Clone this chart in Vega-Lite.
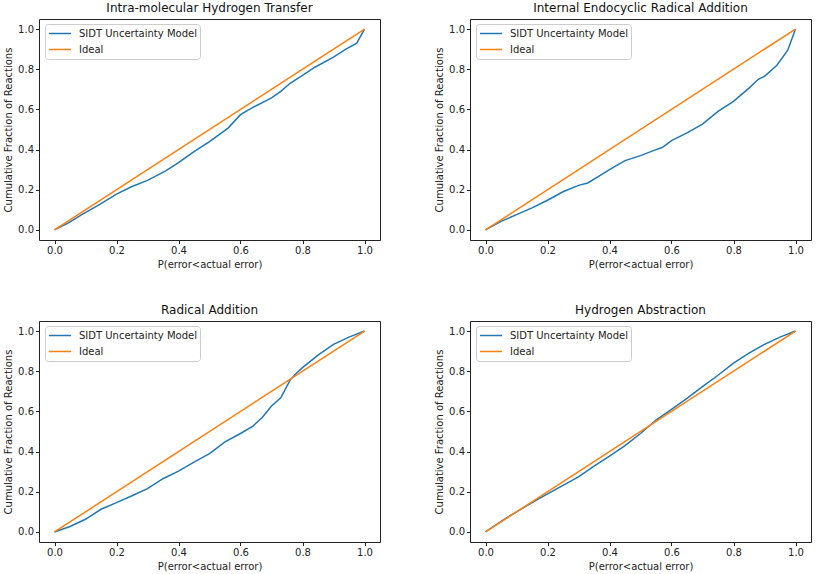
{
  "$schema": "https://vega.github.io/schema/vega-lite/v6.json",
  "padding": {"left": 3, "top": 1, "right": 2, "bottom": 2},
  "background": "white",
  "datasets": {
    "curves": [
      {"panel": "A", "series": "SIDT Uncertainty Model", "x": 0, "y": 0},
      {"panel": "A", "series": "SIDT Uncertainty Model", "x": 0.045, "y": 0.035},
      {"panel": "A", "series": "SIDT Uncertainty Model", "x": 0.088, "y": 0.076},
      {"panel": "A", "series": "SIDT Uncertainty Model", "x": 0.142, "y": 0.124},
      {"panel": "A", "series": "SIDT Uncertainty Model", "x": 0.2, "y": 0.178},
      {"panel": "A", "series": "SIDT Uncertainty Model", "x": 0.25, "y": 0.216},
      {"panel": "A", "series": "SIDT Uncertainty Model", "x": 0.3, "y": 0.247},
      {"panel": "A", "series": "SIDT Uncertainty Model", "x": 0.36, "y": 0.295},
      {"panel": "A", "series": "SIDT Uncertainty Model", "x": 0.4, "y": 0.335},
      {"panel": "A", "series": "SIDT Uncertainty Model", "x": 0.45, "y": 0.39},
      {"panel": "A", "series": "SIDT Uncertainty Model", "x": 0.5, "y": 0.44},
      {"panel": "A", "series": "SIDT Uncertainty Model", "x": 0.56, "y": 0.507},
      {"panel": "A", "series": "SIDT Uncertainty Model", "x": 0.6, "y": 0.574},
      {"panel": "A", "series": "SIDT Uncertainty Model", "x": 0.64, "y": 0.61},
      {"panel": "A", "series": "SIDT Uncertainty Model", "x": 0.7, "y": 0.657},
      {"panel": "A", "series": "SIDT Uncertainty Model", "x": 0.73, "y": 0.69},
      {"panel": "A", "series": "SIDT Uncertainty Model", "x": 0.76, "y": 0.73},
      {"panel": "A", "series": "SIDT Uncertainty Model", "x": 0.8, "y": 0.77},
      {"panel": "A", "series": "SIDT Uncertainty Model", "x": 0.84, "y": 0.81},
      {"panel": "A", "series": "SIDT Uncertainty Model", "x": 0.9, "y": 0.86},
      {"panel": "A", "series": "SIDT Uncertainty Model", "x": 0.94, "y": 0.9},
      {"panel": "A", "series": "SIDT Uncertainty Model", "x": 0.975, "y": 0.93},
      {"panel": "A", "series": "SIDT Uncertainty Model", "x": 1, "y": 1},
      {"panel": "A", "series": "Ideal", "x": 0, "y": 0},
      {"panel": "A", "series": "Ideal", "x": 1, "y": 1},

      {"panel": "B", "series": "SIDT Uncertainty Model", "x": 0, "y": 0},
      {"panel": "B", "series": "SIDT Uncertainty Model", "x": 0.05, "y": 0.043},
      {"panel": "B", "series": "SIDT Uncertainty Model", "x": 0.1, "y": 0.076},
      {"panel": "B", "series": "SIDT Uncertainty Model", "x": 0.15, "y": 0.11},
      {"panel": "B", "series": "SIDT Uncertainty Model", "x": 0.2, "y": 0.148},
      {"panel": "B", "series": "SIDT Uncertainty Model", "x": 0.25, "y": 0.19},
      {"panel": "B", "series": "SIDT Uncertainty Model", "x": 0.3, "y": 0.222},
      {"panel": "B", "series": "SIDT Uncertainty Model", "x": 0.33, "y": 0.234},
      {"panel": "B", "series": "SIDT Uncertainty Model", "x": 0.37, "y": 0.272},
      {"panel": "B", "series": "SIDT Uncertainty Model", "x": 0.4, "y": 0.3},
      {"panel": "B", "series": "SIDT Uncertainty Model", "x": 0.45, "y": 0.345},
      {"panel": "B", "series": "SIDT Uncertainty Model", "x": 0.5, "y": 0.37},
      {"panel": "B", "series": "SIDT Uncertainty Model", "x": 0.55, "y": 0.4},
      {"panel": "B", "series": "SIDT Uncertainty Model", "x": 0.57, "y": 0.41},
      {"panel": "B", "series": "SIDT Uncertainty Model", "x": 0.6, "y": 0.445},
      {"panel": "B", "series": "SIDT Uncertainty Model", "x": 0.65, "y": 0.483},
      {"panel": "B", "series": "SIDT Uncertainty Model", "x": 0.7, "y": 0.527},
      {"panel": "B", "series": "SIDT Uncertainty Model", "x": 0.75, "y": 0.59},
      {"panel": "B", "series": "SIDT Uncertainty Model", "x": 0.8, "y": 0.64},
      {"panel": "B", "series": "SIDT Uncertainty Model", "x": 0.85, "y": 0.706},
      {"panel": "B", "series": "SIDT Uncertainty Model", "x": 0.88, "y": 0.75},
      {"panel": "B", "series": "SIDT Uncertainty Model", "x": 0.9, "y": 0.765},
      {"panel": "B", "series": "SIDT Uncertainty Model", "x": 0.94, "y": 0.82},
      {"panel": "B", "series": "SIDT Uncertainty Model", "x": 0.975, "y": 0.895},
      {"panel": "B", "series": "SIDT Uncertainty Model", "x": 1, "y": 1},
      {"panel": "B", "series": "Ideal", "x": 0, "y": 0},
      {"panel": "B", "series": "Ideal", "x": 1, "y": 1},

      {"panel": "C", "series": "SIDT Uncertainty Model", "x": 0, "y": 0},
      {"panel": "C", "series": "SIDT Uncertainty Model", "x": 0.05, "y": 0.027},
      {"panel": "C", "series": "SIDT Uncertainty Model", "x": 0.1, "y": 0.063},
      {"panel": "C", "series": "SIDT Uncertainty Model", "x": 0.15, "y": 0.113},
      {"panel": "C", "series": "SIDT Uncertainty Model", "x": 0.2, "y": 0.146},
      {"panel": "C", "series": "SIDT Uncertainty Model", "x": 0.25, "y": 0.18},
      {"panel": "C", "series": "SIDT Uncertainty Model", "x": 0.3, "y": 0.216},
      {"panel": "C", "series": "SIDT Uncertainty Model", "x": 0.35, "y": 0.265},
      {"panel": "C", "series": "SIDT Uncertainty Model", "x": 0.4, "y": 0.303},
      {"panel": "C", "series": "SIDT Uncertainty Model", "x": 0.45, "y": 0.348},
      {"panel": "C", "series": "SIDT Uncertainty Model", "x": 0.5, "y": 0.39},
      {"panel": "C", "series": "SIDT Uncertainty Model", "x": 0.55, "y": 0.448},
      {"panel": "C", "series": "SIDT Uncertainty Model", "x": 0.6, "y": 0.49},
      {"panel": "C", "series": "SIDT Uncertainty Model", "x": 0.64, "y": 0.527},
      {"panel": "C", "series": "SIDT Uncertainty Model", "x": 0.67, "y": 0.57},
      {"panel": "C", "series": "SIDT Uncertainty Model", "x": 0.7, "y": 0.627},
      {"panel": "C", "series": "SIDT Uncertainty Model", "x": 0.73, "y": 0.668},
      {"panel": "C", "series": "SIDT Uncertainty Model", "x": 0.76, "y": 0.756},
      {"panel": "C", "series": "SIDT Uncertainty Model", "x": 0.78, "y": 0.79},
      {"panel": "C", "series": "SIDT Uncertainty Model", "x": 0.8, "y": 0.818},
      {"panel": "C", "series": "SIDT Uncertainty Model", "x": 0.85, "y": 0.88},
      {"panel": "C", "series": "SIDT Uncertainty Model", "x": 0.9, "y": 0.934},
      {"panel": "C", "series": "SIDT Uncertainty Model", "x": 0.95, "y": 0.97},
      {"panel": "C", "series": "SIDT Uncertainty Model", "x": 1, "y": 1},
      {"panel": "C", "series": "Ideal", "x": 0, "y": 0},
      {"panel": "C", "series": "Ideal", "x": 1, "y": 1},

      {"panel": "D", "series": "SIDT Uncertainty Model", "x": 0, "y": 0},
      {"panel": "D", "series": "SIDT Uncertainty Model", "x": 0.06, "y": 0.063},
      {"panel": "D", "series": "SIDT Uncertainty Model", "x": 0.1, "y": 0.1},
      {"panel": "D", "series": "SIDT Uncertainty Model", "x": 0.15, "y": 0.146},
      {"panel": "D", "series": "SIDT Uncertainty Model", "x": 0.2, "y": 0.19},
      {"panel": "D", "series": "SIDT Uncertainty Model", "x": 0.25, "y": 0.232},
      {"panel": "D", "series": "SIDT Uncertainty Model", "x": 0.3, "y": 0.274},
      {"panel": "D", "series": "SIDT Uncertainty Model", "x": 0.35, "y": 0.328},
      {"panel": "D", "series": "SIDT Uncertainty Model", "x": 0.4, "y": 0.378},
      {"panel": "D", "series": "SIDT Uncertainty Model", "x": 0.45, "y": 0.43},
      {"panel": "D", "series": "SIDT Uncertainty Model", "x": 0.5, "y": 0.49},
      {"panel": "D", "series": "SIDT Uncertainty Model", "x": 0.55, "y": 0.557},
      {"panel": "D", "series": "SIDT Uncertainty Model", "x": 0.6, "y": 0.61},
      {"panel": "D", "series": "SIDT Uncertainty Model", "x": 0.65, "y": 0.665},
      {"panel": "D", "series": "SIDT Uncertainty Model", "x": 0.7, "y": 0.723},
      {"panel": "D", "series": "SIDT Uncertainty Model", "x": 0.75, "y": 0.78},
      {"panel": "D", "series": "SIDT Uncertainty Model", "x": 0.8, "y": 0.84},
      {"panel": "D", "series": "SIDT Uncertainty Model", "x": 0.85, "y": 0.89},
      {"panel": "D", "series": "SIDT Uncertainty Model", "x": 0.9, "y": 0.934},
      {"panel": "D", "series": "SIDT Uncertainty Model", "x": 0.95, "y": 0.97},
      {"panel": "D", "series": "SIDT Uncertainty Model", "x": 1, "y": 1},
      {"panel": "D", "series": "Ideal", "x": 0, "y": 0},
      {"panel": "D", "series": "Ideal", "x": 1, "y": 1}
    ]
  },
  "data": {"name": "curves"},
  "columns": 2,
  "spacing": {"row": 33, "column": 53},
  "resolve": {"legend": {"color": "independent"}, "scale": {"x": "independent", "y": "independent"}},
  "concat": [
    {
      "title": "Intra-molecular Hydrogen Transfer",
      "width": 341, "height": 221,
      "transform": [{"filter": "datum.panel == 'A'"}],
      "layer": [
        {"transform": [{"filter": "datum.series != 'Ideal'"}], "mark": {"type": "line", "strokeWidth": 1.5},
         "encoding": {
          "x": {"field": "x", "type": "quantitative", "title": "P(error<actual error)", "scale": {"domain": [-0.05, 1.05], "nice": false, "zero": false}, "axis": {"values": [0, 0.2, 0.4, 0.6, 0.8, 1.0], "format": ".1f"}},
          "y": {"field": "y", "type": "quantitative", "title": "Cumulative Fraction of Reactions", "scale": {"domain": [-0.05, 1.05], "nice": false, "zero": false}, "axis": {"values": [0, 0.2, 0.4, 0.6, 0.8, 1.0], "format": ".1f"}},
          "color": {"field": "series", "type": "nominal", "scale": {"domain": ["SIDT Uncertainty Model", "Ideal"], "range": ["#1f77b4", "#ff7f0e"]}, "legend": {"title": null, "orient": "none", "legendX": 6, "legendY": 5}}
         }},
        {"transform": [{"filter": "datum.series == 'Ideal'"}], "mark": {"type": "line", "strokeWidth": 1.5},
         "encoding": {
          "x": {"field": "x", "type": "quantitative"},
          "y": {"field": "y", "type": "quantitative"},
          "color": {"field": "series", "type": "nominal", "legend": {"title": null, "orient": "none", "legendX": 6, "legendY": 5}}
         }}
      ]
    },
    {
      "title": "Internal Endocyclic Radical Addition",
      "width": 341, "height": 221,
      "transform": [{"filter": "datum.panel == 'B'"}],
      "layer": [
        {"transform": [{"filter": "datum.series != 'Ideal'"}], "mark": {"type": "line", "strokeWidth": 1.5},
         "encoding": {
          "x": {"field": "x", "type": "quantitative", "title": "P(error<actual error)", "scale": {"domain": [-0.05, 1.05], "nice": false, "zero": false}, "axis": {"values": [0, 0.2, 0.4, 0.6, 0.8, 1.0], "format": ".1f"}},
          "y": {"field": "y", "type": "quantitative", "title": "Cumulative Fraction of Reactions", "scale": {"domain": [-0.05, 1.05], "nice": false, "zero": false}, "axis": {"values": [0, 0.2, 0.4, 0.6, 0.8, 1.0], "format": ".1f"}},
          "color": {"field": "series", "type": "nominal", "scale": {"domain": ["SIDT Uncertainty Model", "Ideal"], "range": ["#1f77b4", "#ff7f0e"]}, "legend": {"title": null, "orient": "none", "legendX": 6, "legendY": 5}}
         }},
        {"transform": [{"filter": "datum.series == 'Ideal'"}], "mark": {"type": "line", "strokeWidth": 1.5},
         "encoding": {
          "x": {"field": "x", "type": "quantitative"},
          "y": {"field": "y", "type": "quantitative"},
          "color": {"field": "series", "type": "nominal", "legend": {"title": null, "orient": "none", "legendX": 6, "legendY": 5}}
         }}
      ]
    },
    {
      "title": "Radical Addition",
      "width": 341, "height": 221,
      "transform": [{"filter": "datum.panel == 'C'"}],
      "layer": [
        {"transform": [{"filter": "datum.series != 'Ideal'"}], "mark": {"type": "line", "strokeWidth": 1.5},
         "encoding": {
          "x": {"field": "x", "type": "quantitative", "title": "P(error<actual error)", "scale": {"domain": [-0.05, 1.05], "nice": false, "zero": false}, "axis": {"values": [0, 0.2, 0.4, 0.6, 0.8, 1.0], "format": ".1f"}},
          "y": {"field": "y", "type": "quantitative", "title": "Cumulative Fraction of Reactions", "scale": {"domain": [-0.05, 1.05], "nice": false, "zero": false}, "axis": {"values": [0, 0.2, 0.4, 0.6, 0.8, 1.0], "format": ".1f"}},
          "color": {"field": "series", "type": "nominal", "scale": {"domain": ["SIDT Uncertainty Model", "Ideal"], "range": ["#1f77b4", "#ff7f0e"]}, "legend": {"title": null, "orient": "none", "legendX": 6, "legendY": 5}}
         }},
        {"transform": [{"filter": "datum.series == 'Ideal'"}], "mark": {"type": "line", "strokeWidth": 1.5},
         "encoding": {
          "x": {"field": "x", "type": "quantitative"},
          "y": {"field": "y", "type": "quantitative"},
          "color": {"field": "series", "type": "nominal", "legend": {"title": null, "orient": "none", "legendX": 6, "legendY": 5}}
         }}
      ]
    },
    {
      "title": "Hydrogen Abstraction",
      "width": 341, "height": 221,
      "transform": [{"filter": "datum.panel == 'D'"}],
      "layer": [
        {"transform": [{"filter": "datum.series != 'Ideal'"}], "mark": {"type": "line", "strokeWidth": 1.5},
         "encoding": {
          "x": {"field": "x", "type": "quantitative", "title": "P(error<actual error)", "scale": {"domain": [-0.05, 1.05], "nice": false, "zero": false}, "axis": {"values": [0, 0.2, 0.4, 0.6, 0.8, 1.0], "format": ".1f"}},
          "y": {"field": "y", "type": "quantitative", "title": "Cumulative Fraction of Reactions", "scale": {"domain": [-0.05, 1.05], "nice": false, "zero": false}, "axis": {"values": [0, 0.2, 0.4, 0.6, 0.8, 1.0], "format": ".1f"}},
          "color": {"field": "series", "type": "nominal", "scale": {"domain": ["SIDT Uncertainty Model", "Ideal"], "range": ["#1f77b4", "#ff7f0e"]}, "legend": {"title": null, "orient": "none", "legendX": 6, "legendY": 5}}
         }},
        {"transform": [{"filter": "datum.series == 'Ideal'"}], "mark": {"type": "line", "strokeWidth": 1.5},
         "encoding": {
          "x": {"field": "x", "type": "quantitative"},
          "y": {"field": "y", "type": "quantitative"},
          "color": {"field": "series", "type": "nominal", "legend": {"title": null, "orient": "none", "legendX": 6, "legendY": 5}}
         }}
      ]
    }
  ],
  "config": {
    "font": "DejaVu Sans",
    "view": {"stroke": "#222222", "strokeWidth": 1},
    "axis": {
      "grid": false, "domain": false,
      "tickColor": "#222222", "tickSize": 3.5, "tickWidth": 1,
      "labelFont": "DejaVu Sans", "labelFontSize": 10, "labelColor": "#222222", "labelPadding": 2,
      "titleFont": "DejaVu Sans", "titleFontSize": 10, "titleFontWeight": "normal", "titleColor": "#222222", "titlePadding": 4
    },
    "title": {"font": "DejaVu Sans", "fontSize": 12, "fontWeight": "normal", "color": "#111111", "offset": 4, "anchor": "middle"},
    "legend": {
      "fillColor": "white", "strokeColor": "#cccccc", "cornerRadius": 3, "padding": 3,
      "symbolType": "stroke", "symbolSize": 484, "symbolStrokeWidth": 1.5, "clipHeight": 13,
      "labelFont": "DejaVu Sans", "labelFontSize": 10, "labelColor": "#222222", "labelOffset": 7, "rowPadding": 3
    }
  }
}
